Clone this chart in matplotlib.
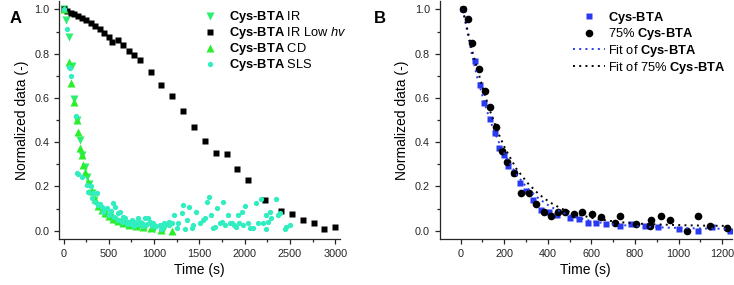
import matplotlib
matplotlib.use("Agg")
import matplotlib.pyplot as plt
from matplotlib.ticker import MultipleLocator, FormatStrFormatter

plt.rcParams["font.family"] = ["Liberation Sans", "DejaVu Sans"]
plt.rcParams["mathtext.fontset"] = "custom"
plt.rcParams["mathtext.rm"] = "Liberation Sans"
plt.rcParams["mathtext.bf"] = "Liberation Sans:bold"
plt.rcParams["mathtext.it"] = "Liberation Sans:italic"

HY = "\u2010"
CYS = r"$\mathbf{Cys" + HY + r"BTA}$"

# ---- panel A data ----
ir_t = [7, 22, 62, 92, 118, 147, 184, 202, 239, 257, 280, 312, 340, 385, 420, 460,
        510, 560, 620, 690, 760, 830, 900, 1000, 1100]
ir_y = [1.0, 0.95, 0.877, 0.744, 0.594, 0.50, 0.41, 0.342, 0.289, 0.244, 0.21, 0.17,
        0.14, 0.11, 0.09, 0.075, 0.06, 0.05, 0.04, 0.03, 0.025, 0.02, 0.015, 0.01, 0.005]

low_t = [0, 40, 80, 120, 160, 200, 250, 300, 350, 400, 450, 500, 540, 600, 660, 720,
         780, 840, 960, 1080, 1200, 1320, 1440, 1560, 1680, 1800, 1920, 2040, 2220,
         2400, 2520, 2640, 2760, 2880, 3000]
low_y = [1.0, 0.992, 0.985, 0.978, 0.970, 0.963, 0.952, 0.940, 0.925, 0.910, 0.893,
         0.875, 0.855, 0.861, 0.838, 0.813, 0.792, 0.770, 0.718, 0.658, 0.609, 0.542,
         0.467, 0.406, 0.353, 0.347, 0.277, 0.229, 0.138, 0.089, 0.074, 0.048, 0.033,
         0.008, 0.017]

cd_t = [7, 55, 85, 118, 147, 165, 184, 202, 220, 239, 275, 312, 349, 385, 422, 460,
        500, 550, 600, 660, 720, 800, 880, 960, 1080, 1200]
cd_y = [1.0, 0.764, 0.666, 0.583, 0.50, 0.447, 0.372, 0.342, 0.297, 0.267, 0.22, 0.18,
        0.145, 0.11, 0.095, 0.08, 0.065, 0.055, 0.045, 0.035, 0.028, 0.022, 0.016,
        0.012, 0.004, 0.0]

sls_t = [5, 37, 60, 70, 78, 140, 154, 165, 200, 257, 275, 300, 312, 330, 349, 367,
         385, 400, 422, 441, 450, 477, 500, 520, 551, 560, 569, 600, 606, 624, 640,
         660, 679, 700, 716, 740, 753, 780, 789, 820, 826, 844, 863, 880, 899, 920,
         936, 954, 980, 991, 1020, 1064, 1080, 1101, 1109, 1138, 1157, 1168, 1168,
         1194, 1219, 1249, 1267, 1304, 1322, 1340, 1359, 1384, 1414, 1432, 1461, 1506,
         1535, 1561, 1579, 1608, 1623, 1652, 1671, 1696, 1726, 1744, 1762, 1781, 1817,
         1836, 1865, 1880, 1902, 1927, 1938, 1965, 1982, 2001, 2038, 2056, 2093, 2122,
         2148, 2185, 2203, 2232, 2240, 2258, 2276, 2295, 2343, 2368, 2387, 2442, 2460,
         2497]
sls_y = [1.0, 0.91, 0.74, 0.735, 0.70, 0.52, 0.26, 0.256, 0.241, 0.206, 0.176, 0.20,
         0.146, 0.169, 0.131, 0.172, 0.116, 0.12, 0.108, 0.086, 0.10, 0.101, 0.07,
         0.09, 0.124, 0.06, 0.108, 0.05, 0.079, 0.086, 0.04, 0.06, 0.056, 0.03, 0.041,
         0.03, 0.048, 0.02, 0.041, 0.03, 0.056, 0.041, 0.033, 0.02, 0.056, 0.03, 0.056,
         0.041, 0.02, 0.033, 0.02, 0.026, 0.01, 0.018, 0.033, 0.030, 0.033, 0.041,
         0.026, 0.033, 0.071, 0.011, 0.033, 0.079, 0.118, 0.006, 0.048, 0.108, 0.011,
         0.026, 0.086, 0.033, 0.048, 0.056, 0.131, 0.154, 0.071, 0.011, 0.018, 0.101,
         0.033, 0.041, 0.128, 0.026, 0.071, 0.033, 0.033, 0.026, 0.018, 0.071, 0.033,
         0.086, 0.026, 0.113, 0.033, 0.011, 0.011, 0.124, 0.033, 0.143, 0.033, 0.071,
         0.006, 0.041, 0.086, 0.056, 0.142, 0.071, 0.079, 0.006, 0.018, 0.026]

# ---- panel B data ----
cys_t = [10, 65, 87, 107, 133, 156, 175, 197, 219, 244, 271, 301, 334, 370, 405, 443,
         500, 543, 584, 620, 669, 729, 783, 844, 906, 1004, 1087, 1154, 1236]
cys_y = [1.0, 0.768, 0.658, 0.578, 0.503, 0.443, 0.372, 0.342, 0.292, 0.26, 0.214,
         0.181, 0.139, 0.093, 0.085, 0.071, 0.058, 0.053, 0.033, 0.036, 0.03, 0.023,
         0.03, 0.02, 0.015, 0.01, 0.0, 0.015, 0.0]

p75_t = [10, 36, 53, 84, 113, 136, 164, 190, 213, 243, 275, 312, 347, 382, 415, 449,
         480, 520, 557, 602, 645, 707, 729, 805, 867, 872, 920, 959, 1040, 1088, 1143,
         1223]
p75_y = [1.0, 0.955, 0.85, 0.729, 0.633, 0.557, 0.47, 0.361, 0.312, 0.262, 0.169,
         0.169, 0.119, 0.084, 0.068, 0.086, 0.083, 0.074, 0.084, 0.074, 0.06, 0.033,
         0.066, 0.029, 0.023, 0.048, 0.068, 0.048, 0.0, 0.068, 0.023, 0.011]

fit_t = [10, 31, 51, 77, 103, 128, 154, 180, 205, 256, 308, 359, 410, 462, 513, 615,
         718, 821, 923, 1026, 1128, 1231]
fit_cys = [1.0, 0.90, 0.80, 0.69, 0.60, 0.52, 0.45, 0.39, 0.34, 0.255, 0.19, 0.145,
           0.11, 0.085, 0.065, 0.04, 0.027, 0.02, 0.015, 0.012, 0.01, 0.009]
fit_75 = [1.0, 0.91, 0.82, 0.73, 0.64, 0.56, 0.49, 0.425, 0.37, 0.28, 0.215, 0.165,
          0.128, 0.10, 0.08, 0.055, 0.04, 0.032, 0.028, 0.025, 0.023, 0.022]

C_IR = "#2bef6e"
C_CD = "#2bef2b"
C_SLS = "#30eec0"
C_BLUE = "#2a3af0"
AX_COL = "#262626"

fig = plt.figure(figsize=(7.34, 2.85), dpi=100)
axA = fig.add_axes([0.081, 0.160, 0.382, 0.838])
axB = fig.add_axes([0.599, 0.160, 0.398, 0.838])


def style(ax):
    for s in ["top", "right"]:
        ax.spines[s].set_visible(False)
    for s in ["left", "bottom"]:
        ax.spines[s].set_color(AX_COL)
        ax.spines[s].set_linewidth(0.9)
    ax.tick_params(which="both", direction="out", colors=AX_COL, labelsize=7.8,
                   width=0.9)
    ax.tick_params(which="major", length=3.5)
    ax.tick_params(which="minor", length=2)
    ax.yaxis.set_major_locator(MultipleLocator(0.2))
    ax.yaxis.set_minor_locator(MultipleLocator(0.1))
    ax.yaxis.set_major_formatter(FormatStrFormatter("%.1f"))
    ax.set_ylim(-0.039, 1.04)
    ax.set_ylabel("Normalized data (-)", fontsize=10, labelpad=4)
    ax.set_xlabel("Time (s)", fontsize=10, labelpad=3)


leg_kw = dict(frameon=False, fontsize=9.3, borderpad=0, borderaxespad=0)

# panel A
axA.plot(ir_t, ir_y, "v", color=C_IR, ms=5.2, mec="none", label=CYS + " IR")
axA.plot(low_t, low_y, "s", color="black", ms=5, mec="none",
         label=CYS + r" IR Low $\mathit{hv}$")
axA.plot(cd_t, cd_y, "^", color=C_CD, ms=5.2, mec="none", label=CYS + " CD")
axA.plot(sls_t, sls_y, "o", color=C_SLS, ms=3.8, mec="none", label=CYS + " SLS")
style(axA)
axA.set_xlim(-45, 3050)
axA.xaxis.set_major_locator(MultipleLocator(500))
axA.xaxis.set_minor_locator(MultipleLocator(250))
axA.legend(loc="upper left", bbox_to_anchor=(0.272, 0.968),
           bbox_transform=fig.transFigure, handlelength=1.6, handletextpad=0.67,
           labelspacing=0.0, **leg_kw)
fig.text(0.013, 0.918, "A", fontsize=12, fontweight="bold")

# panel B
axB.plot(cys_t, cys_y, "s", color=C_BLUE, ms=5, mec="none", label=CYS)
axB.plot(p75_t, p75_y, "o", color="black", ms=5.5, mec="none", label="75% " + CYS)
axB.plot(fit_t, fit_cys, color=C_BLUE, lw=1.4, ls=(0, (1, 2.2)),
         label="Fit of " + CYS)
axB.plot(fit_t, fit_75, color="black", lw=1.4, ls=(0, (1, 2.2)),
         label="Fit of 75% " + CYS)
style(axB)
axB.set_xlim(-96, 1244)
axB.xaxis.set_major_locator(MultipleLocator(200))
axB.xaxis.set_minor_locator(MultipleLocator(100))
axB.legend(loc="upper left", bbox_to_anchor=(0.780, 0.966),
           bbox_transform=fig.transFigure, handlelength=2.55, handletextpad=0.2,
           labelspacing=0.05, **leg_kw)
fig.text(0.509, 0.918, "B", fontsize=12, fontweight="bold")

fig.savefig("out.png", dpi=100)
